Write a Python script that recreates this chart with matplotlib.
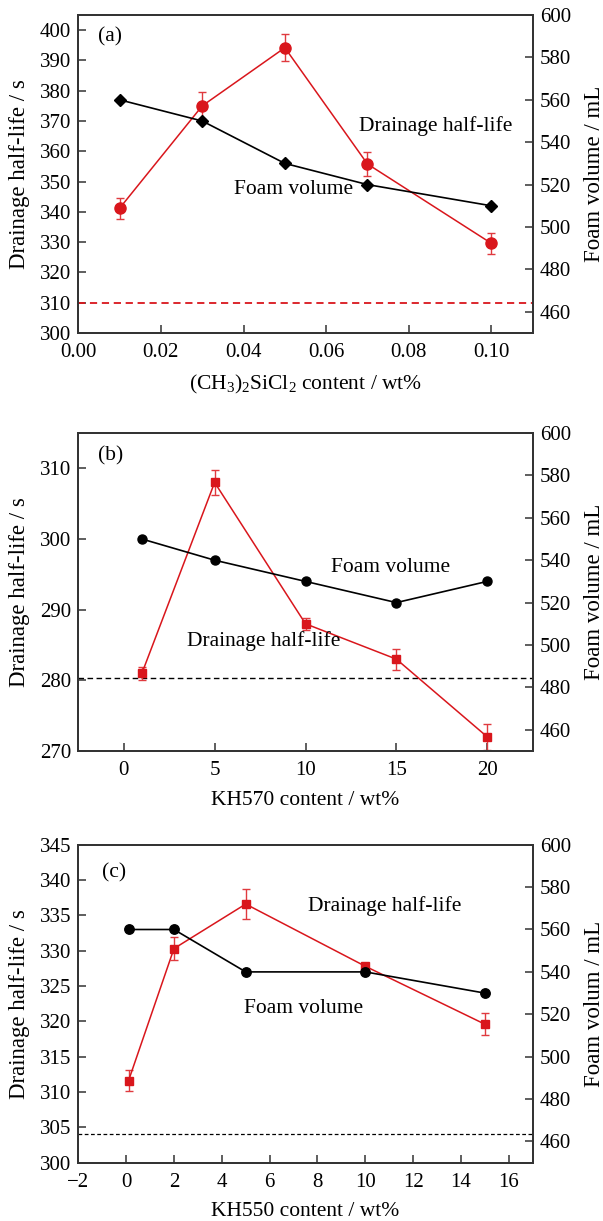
import matplotlib
matplotlib.use("Agg")
import matplotlib.pyplot as plt
import numpy as np

plt.rcParams['font.family'] = ['Liberation Serif', 'DejaVu Serif']
plt.rcParams['mathtext.fontset'] = 'custom'
plt.rcParams['mathtext.rm'] = 'Liberation Serif'
plt.rcParams['mathtext.it'] = 'Liberation Serif:italic'
plt.rcParams['axes.unicode_minus'] = True

# ---------------- data ----------------
# panel (a)
a_x = [0.01, 0.03, 0.05, 0.07, 0.10]
a_drain = [341.2, 375.0, 394.2, 355.8, 329.6]
a_drain_err = [3.5, 4.5, 4.5, 3.9, 3.5]
a_foam = [560, 550, 530, 520, 510]
a_base = 310.0
a_xticks = [0.00, 0.02, 0.04, 0.06, 0.08, 0.10]
a_lticks = [300, 310, 320, 330, 340, 350, 360, 370, 380, 390, 400]

# panel (b)
b_x = [1, 5, 10, 15, 20]
b_drain = [281.0, 308.0, 288.0, 283.0, 272.0]
b_drain_err = [0.9, 1.8, 0.85, 1.5, 1.85]
b_foam = [550, 540, 530, 520, 530]
b_base = 280.3
b_xticks = [0, 5, 10, 15, 20]
b_lticks = [270, 280, 290, 300, 310]

# panel (c)
c_x = [0.1, 2, 5, 10, 15]
c_drain = [311.6, 330.3, 336.6, 327.8, 319.6]
c_drain_err = [1.5, 1.6, 2.1, 0.3, 1.55]
c_foam = [560, 560, 540, 540, 530]
c_base = 304.1
c_xticks = [-2, 0, 2, 4, 6, 8, 10, 12, 14, 16]
c_lticks = [300, 305, 310, 315, 320, 325, 330, 335, 340, 345]

r_ticks = [460, 480, 500, 520, 540, 560, 580, 600]

RED = '#d9161c'
ERR = '#e03a3f'
SPINE = '#333333'
FS = 15.5
YFS = 16.5
TFS = 15

W, H = 603, 1221
fig = plt.figure(figsize=(W / 100, H / 100), dpi=100)

left = 78.3 / W
width = 454.4 / W
hgt = 318.0 / H


def make_axes(bottom_px):
    ax = fig.add_axes([left, 1 - bottom_px / H, width, hgt])
    ax2 = ax.twinx()
    for a in (ax, ax2):
        for s in a.spines.values():
            s.set_color(SPINE)
            s.set_linewidth(1.3)
    ax.tick_params(axis='both', direction='in', length=6, width=1.1,
                   color=SPINE, labelsize=TFS, pad=5, right=False, top=False)
    ax.tick_params(axis='x', pad=7.5)
    ax2.tick_params(axis='y', direction='in', length=6, width=1.1,
                    color=SPINE, labelsize=TFS, pad=5)
    return ax, ax2


def finish(ax, ax2, xlabel, rlabel):
    ax.set_xlabel(xlabel, fontsize=FS)
    ax.xaxis.set_label_coords(0.5, -0.125)
    ax.set_ylabel('Drainage half-life / s', fontsize=YFS)
    ax.yaxis.set_label_coords(-0.107, 0.5)
    ax2.set_ylabel(rlabel, fontsize=YFS)
    ax2.yaxis.set_label_coords(1.112, 0.5)
    ax2.set_ylim(450, 600)
    ax2.set_yticks(r_ticks)


# ---------------- panel (a) ----------------
ax, ax2 = make_axes(333.0)
ax.axhline(a_base, color=RED, lw=1.3, linestyle=(0, (4.0, 2.6)))
ax.errorbar(a_x, a_drain, yerr=a_drain_err, color=RED, ecolor=ERR,
            marker='o', markersize=8, lw=1.1, elinewidth=1.0, capsize=3,
            capthick=1.0)
ax2.plot(a_x, a_foam, color='black', marker='D', markersize=6.3, lw=1.2)
ax.set_xlim(0, 0.11)
ax.set_xticks(a_xticks)
ax.set_xticklabels(['%.2f' % v for v in a_xticks])
ax.set_ylim(300, 405)
ax.set_yticks(a_lticks)
ax.text(0.0048, 397.7, '(a)', fontsize=FS, ha='left', va='center')
ax.text(0.0866, 368.2, 'Drainage half-life', fontsize=FS, ha='center', va='center')
ax.text(0.0522, 347.4, 'Foam volume', fontsize=FS, ha='center', va='center')
finish(ax, ax2, r'(CH$_3$)$_2$SiCl$_2$ content / wt%', 'Foam volume / mL')

# ---------------- panel (b) ----------------
ax, ax2 = make_axes(751.0)
ax.axhline(b_base, color='black', lw=1.0, linestyle=(0, (4.0, 2.5)))
ax.errorbar(b_x, b_drain, yerr=b_drain_err, color=RED, ecolor=ERR,
            marker='s', markersize=5.5, lw=1.1, elinewidth=1.0, capsize=3,
            capthick=1.0)
ax2.plot(b_x, b_foam, color='black', marker='o', markersize=6.5, lw=1.2)
ax.set_xlim(-2.5, 22.5)
ax.set_xticks(b_xticks)
ax.set_ylim(270, 315)
ax.set_yticks(b_lticks)
ax.text(-1.42, 311.7, '(b)', fontsize=FS, ha='left', va='center')
ax.text(14.68, 295.9, 'Foam volume', fontsize=FS, ha='center', va='center')
ax.text(7.72, 285.6, 'Drainage half-life', fontsize=FS, ha='center', va='center')
finish(ax, ax2, 'KH570 content / wt%', 'Foam volume / mL')

# ---------------- panel (c) ----------------
ax, ax2 = make_axes(1162.7)
ax.axhline(c_base, color='black', lw=0.9, linestyle=(0, (3.0, 2.0)))
ax.errorbar(c_x, c_drain, yerr=c_drain_err, color=RED, ecolor=ERR,
            marker='s', markersize=5.5, lw=1.1, elinewidth=1.0, capsize=3,
            capthick=1.0)
ax2.plot(c_x, c_foam, color='black', marker='o', markersize=6.8, lw=1.2)
ax.set_xlim(-2, 17)
ax.set_xticks(c_xticks)
ax.set_ylim(300, 345)
ax.set_yticks(c_lticks)
ax.text(-1.01, 341.0, '(c)', fontsize=FS, ha='left', va='center')
ax.text(10.82, 336.3, 'Drainage half-life', fontsize=FS, ha='center', va='center')
ax.text(7.40, 321.8, 'Foam volume', fontsize=FS, ha='center', va='center')
finish(ax, ax2, 'KH550 content / wt%', 'Foam volum / mL')

fig.savefig('out.png', dpi=100)
